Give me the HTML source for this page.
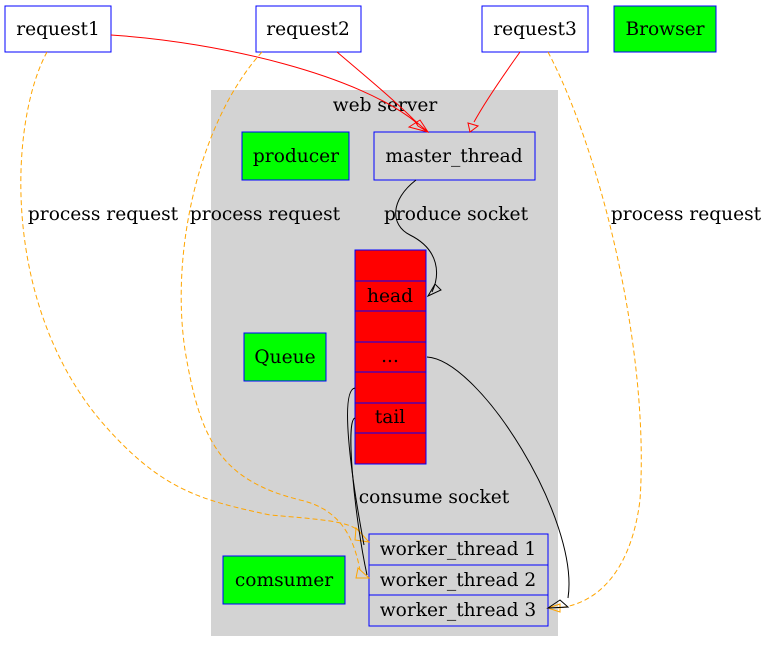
<!DOCTYPE html>
<html><head><meta charset="utf-8"><style>body{margin:0;background:#fff}svg{display:block;font-family:"DejaVu Serif",serif;font-size:18.6px}</style></head>
<body>
<svg width="769" height="653" viewBox="0 0 769 653" xmlns="http://www.w3.org/2000/svg">
<rect x="211" y="90" width="347" height="546" fill="#d3d3d3"/>
<text x="385" y="111" text-anchor="middle">web server</text>
<g stroke="#0000ff" stroke-width="1">
<rect x="5" y="6" width="106" height="46" fill="#fff"/>
<rect x="256" y="6" width="105" height="46" fill="#fff"/>
<rect x="482" y="6" width="106" height="46" fill="#fff"/>
<rect x="614" y="6" width="102" height="46" fill="#00ff00"/>
<rect x="242" y="132" width="107" height="48" fill="#00ff00"/>
<rect x="374" y="132" width="161" height="48" fill="#d3d3d3"/>
<rect x="244" y="333" width="82" height="48" fill="#00ff00"/>
<rect x="223" y="556" width="122" height="48" fill="#00ff00"/>
<rect x="355" y="250" width="71" height="214" fill="#ff0000"/>
<path d="M355,281H426M355,311H426M355,342H426M355,372H426M355,403H426M355,433H426" fill="none"/>
<rect x="369" y="534" width="179" height="92" fill="#d3d3d3"/>
<path d="M369,565H548M369,595H548" fill="none"/>
</g>
<g text-anchor="middle">
<text x="58" y="35">request1</text>
<text x="308" y="35">request2</text>
<text x="535" y="35">request3</text>
<text x="665" y="35">Browser</text>
<text x="296" y="162">producer</text>
<text x="454" y="162">master_thread</text>
<text x="285" y="363">Queue</text>
<text x="284" y="586">comsumer</text>
<text x="390" y="302">head</text>
<text x="390" y="362">...</text>
<text x="390" y="423">tail</text>
<text x="458" y="555">worker_thread 1</text>
<text x="458" y="586">worker_thread 2</text>
<text x="458" y="616">worker_thread 3</text>
<text x="103" y="220">process request</text>
<text x="265" y="220">process request</text>
<text x="686" y="220">process request</text>
<text x="456" y="220">produce socket</text>
<text x="434" y="503">consume socket</text>
</g>
<g fill="none" stroke="#ff0000">
<path d="M111,35 C220,42 360,75 418,124"/>
<path d="M337,52 C370,80 400,105 418,124"/>
<path d="M520,52 C500,80 485,102 474,122"/>
<path d="M414,120 L428,132 L418,126 Z M409,127 L428,132 L420,120 Z" />
<path d="M468,123 L470,132 L478,126 Z"/>
</g>
<g fill="none" stroke="#ffa500" stroke-dasharray="5,3">
<path d="M47,52 C10,120 0,300 100,420 C160,490 200,500 270,515 C330,520 350,522 360,532"/>
<path d="M262,52 C200,120 170,250 185,350 C200,440 220,480 300,500 C345,510 355,545 360,570"/>
<path d="M548,52 C600,150 650,350 640,500 C630,580 590,605 558,608"/>
</g>
<g fill="none" stroke="#ffa500">
<path d="M356,528 L369,542 L355,540 Z"/>
<path d="M358,568 L369,578 L356,578 Z"/>
<path d="M560,604 L548,608 L560,612 Z"/>
</g>
<g fill="none" stroke="#000">
<path d="M416,180 C390,200 390,225 410,235 C440,250 440,275 432,292"/>
<path d="M427,357 C480,360 580,520 568,598"/>
<path d="M355,388 C340,390 350,470 364,545"/>
<path d="M355,418 C345,420 355,520 367,575"/>
<path d="M428,296 L441,290 L435,284 Z"/>
<path d="M560,600 L548,608 L568,607 Z"/>
</g>
</svg>
</body></html>
